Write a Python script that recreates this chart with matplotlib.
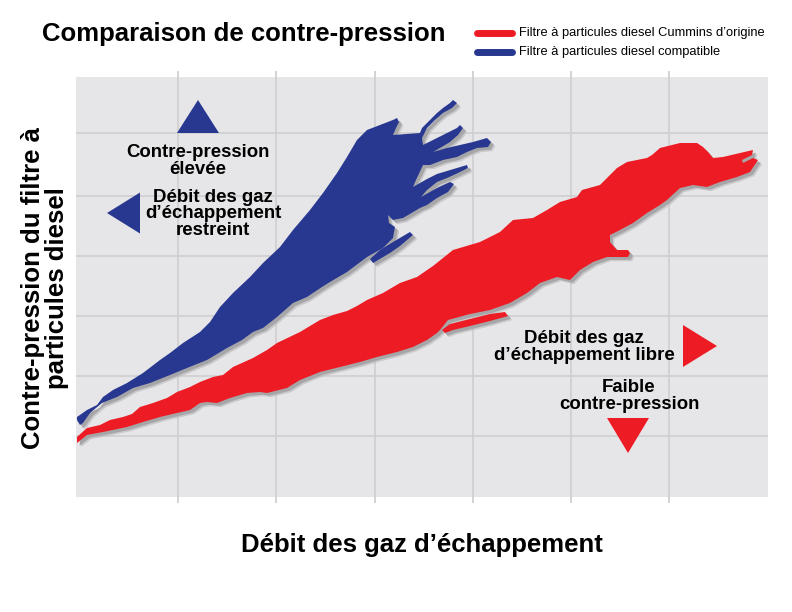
import matplotlib
matplotlib.use('Agg')
import matplotlib.pyplot as plt
from matplotlib.lines import Line2D
from matplotlib.patches import Polygon
from matplotlib.transforms import offset_copy

# outline of the "compatible" filter band (flow, back-pressure), arbitrary units
compat_flow = [1, 11, 21, 27, 37, 51, 67, 84, 94, 107, 124, 134, 144, 157, 174, 187,
               204, 217, 234, 247, 261, 271, 281, 291, 304, 317, 321, 323, 320, 317,
               344, 346, 354, 361, 367, 374, 377, 381, 376, 367, 359, 351, 346,
               347, 361, 371, 381, 384, 387, 382, 374, 364, 357,
               371, 384, 397, 411, 415, 412, 401, 391, 381, 367, 354, 347,
               340, 337, 351, 361, 381, 391, 392, 382, 371, 361, 351, 345,
               361, 374, 378, 372, 361, 351, 344,
               327, 317, 312, 313, 319, 317, 307, 291, 271, 254, 246, 231, 217,
               201, 187, 177, 166, 151, 131, 111, 94, 74, 57, 41, 26, 14, 7, 4, 1]
compat_pres = [80, 87, 92, 100, 107, 114, 124, 137, 144, 154, 165, 175, 190, 204, 220, 234,
               250, 267, 287, 304, 324, 340, 357, 367, 372, 377, 379, 375, 369, 362,
               364, 369, 377, 384, 389, 394, 397, 394, 389, 384, 377, 369, 359,
               352, 359, 364, 369, 372, 369, 362, 355, 349, 345,
               349, 352, 355, 359, 355, 350, 349, 345, 340, 337, 332, 332,
               317, 310, 318, 323, 329, 332, 329, 324, 319, 315, 307, 300,
               309, 315, 313, 305, 299, 292, 289,
               279, 277, 282, 274, 270, 259, 249, 240, 225, 215, 210, 200, 194,
               180, 169, 165, 157, 149, 137, 129, 122, 114, 109, 100, 94, 84, 74, 72, 77]
compat_island_flow = [294, 297, 314, 324, 337, 334, 317, 304]
compat_island_pres = [238, 234, 244, 251, 262, 265, 255, 247]

# outline of the genuine Cummins filter band
origine_flow = [1, 11, 24, 34, 47, 56, 64, 77, 91, 101, 114, 124, 137, 147, 157, 177,
                191, 201, 224, 244, 257, 271, 281, 291, 307, 324, 341, 357, 377, 404,
                424, 437, 457, 471, 484, 501, 506, 524, 541, 551, 571, 576, 584, 604,
                621, 627, 632, 637, 647, 664, 677, 676, 666, 667, 677, 682,
                674, 661, 644, 631, 617, 604, 591, 584, 571, 557, 544, 534, 534, 541,
                552, 554, 552, 531, 517, 504, 494, 481, 464, 451, 434, 414, 394, 372,
                364, 361, 351, 337, 321, 301, 284, 264, 244, 224, 211, 191, 184, 171,
                154, 141, 131, 124, 114, 101, 84, 67, 51, 27, 11, 1]
origine_pres = [60, 69, 72, 77, 80, 83, 90, 94, 99, 105, 110, 115, 120, 122, 130, 139,
                147, 154, 165, 177, 182, 186, 191, 197, 204, 214, 220, 231, 247, 255,
                265, 277, 279, 287, 295, 300, 307, 312, 329, 335, 339, 342, 349, 354,
                354, 350, 345, 339, 340, 344, 347, 342, 337, 334, 339, 337,
                325, 320, 315, 310, 312, 309, 297, 292, 284, 274, 267, 262, 255, 247,
                247, 244, 240, 240, 235, 227, 217, 220, 214, 204, 194, 187, 183, 177,
                167, 164, 157, 150, 145, 140, 135, 130, 125, 117, 109, 104, 105, 104,
                99, 94, 95, 94, 87, 84, 80, 75, 70, 65, 62, 54]
origine_spur_flow = [366, 374, 394, 414, 429, 432, 414, 394, 377, 369]
origine_spur_pres = [167, 173, 178, 183, 185, 181, 176, 171, 167, 164]

grid_flow = [102, 200, 299, 397, 495, 593]
grid_pres = [61, 121, 181, 241, 301, 364]

RED = '#ED1C24'
BLUE = '#283891'
BG = '#E6E6E8'
GRIDC = '#D0D0D3'
BOLD = dict(family='Liberation Sans', weight='bold')

fig = plt.figure(figsize=(7.92, 6.12), dpi=100)
ax = fig.add_axes([76 / 792, 1 - 497 / 612, 692 / 792, 420 / 612])
ax.set_facecolor(BG)
ax.set_xlim(0, 692)
ax.set_ylim(0, 420)
ax.set_xticks(grid_flow)
ax.set_yticks(grid_pres)
ax.set_xticklabels([])
ax.set_yticklabels([])
ax.grid(True, color=GRIDC, lw=1.3)
ax.set_axisbelow(True)
ax.tick_params(axis='x', which='both', bottom=True, top=True, direction='out',
               length=4, width=1.3, color=GRIDC)
ax.tick_params(axis='y', left=False)
for sp in ax.spines.values():
    sp.set_visible(False)

shadow1 = offset_copy(ax.transData, fig=fig, x=2.0, y=-2.0, units='points')
shadow2 = offset_copy(ax.transData, fig=fig, x=3.0, y=-3.0, units='points')


def band(xs, ys, color):
    pts = list(zip(xs, ys))
    ax.add_patch(Polygon(pts, closed=True, fc='#B8B8BB', ec='none', alpha=0.6,
                         transform=shadow2, zorder=2))
    ax.add_patch(Polygon(pts, closed=True, fc='#A6A6A9', ec='none',
                         transform=shadow1, zorder=2))
    ax.add_patch(Polygon(pts, closed=True, fc=color, ec='none', zorder=3))


band(origine_flow, origine_pres, RED)
band(origine_spur_flow, origine_spur_pres, RED)
band(compat_flow, compat_pres, BLUE)
band(compat_island_flow, compat_island_pres, BLUE)


def triangle(x, y, length, width, direction, color):
    # x, y: middle of the base; direction: up/down/left/right
    hw = width / 2
    if direction == 'up':
        pts = [(x - hw, y), (x + hw, y), (x, y + length)]
    elif direction == 'down':
        pts = [(x - hw, y), (x + hw, y), (x, y - length)]
    elif direction == 'left':
        pts = [(x, y - hw), (x, y + hw), (x - length, y)]
    else:
        pts = [(x, y - hw), (x, y + hw), (x + length, y)]
    ax.add_patch(Polygon(pts, closed=True, fc=color, ec='none', zorder=4))


triangle(122, 364, 33, 42, 'up', BLUE)
triangle(64, 284, 33, 41, 'left', BLUE)
triangle(607, 151, 34, 42, 'right', RED)
triangle(552, 79, 35, 42, 'down', RED)

ax.text(122, 336, 'Contre-pression\nélevée', ha='center', va='center',
        fontsize=13.4, linespacing=0.95, zorder=5, **BOLD)
ax.text(137, 283, 'Débit des gaz\nd’échappement\nrestreint', ha='center', va='center',
        fontsize=13.4, linespacing=0.95, zorder=5, **BOLD)
ax.text(508, 150, 'Débit des gaz\nd’échappement libre', ha='center', va='center',
        fontsize=13.4, linespacing=0.95, zorder=5, **BOLD)
ax.text(553, 101, 'Faible\ncontre-pression', ha='center', va='center',
        fontsize=13.4, linespacing=0.95, zorder=5, **BOLD)

fig.text(42 / 792, 1 - 41 / 612, 'Comparaison de contre-pression', ha='left',
         va='baseline', fontsize=18.5, **BOLD)
fig.text(422 / 792, 1 - 545 / 612, 'Débit des gaz d’échappement', ha='center',
         va='center', fontsize=18.5, **BOLD)
fig.text(45 / 792, 1 - 288 / 612, 'Contre-pression du filtre à\nparticules diesel',
         rotation=90, ha='center', va='center', multialignment='center',
         fontsize=18.5, linespacing=0.95, **BOLD)

legend_items = [('Filtre à particules diesel Cummins d’origine', RED, 33),
                ('Filtre à particules diesel compatible', BLUE, 52)]
for label, color, ypx in legend_items:
    y = 1 - ypx / 612
    fig.add_artist(Line2D([477 / 792, 512 / 792], [y, y], transform=fig.transFigure,
                          color=color, lw=5, solid_capstyle='round'))
    fig.text(519 / 792, y, label, ha='left', va='center', fontsize=9.3,
             family='Liberation Sans')

fig.savefig('out.png', dpi=100)
